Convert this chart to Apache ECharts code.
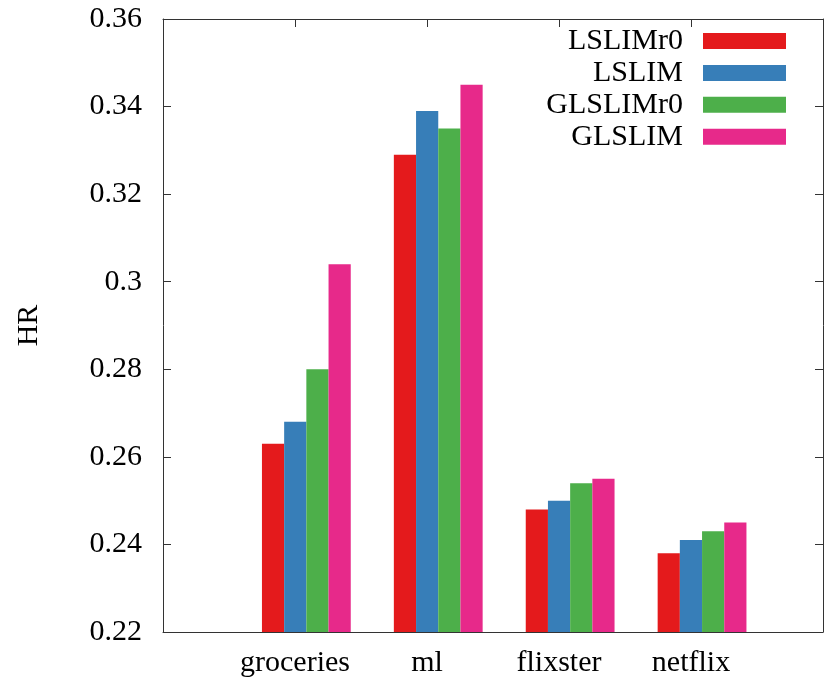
<!DOCTYPE html>
<html>
<head>
<meta charset="utf-8">
<script src="https://cdn.jsdelivr.net/npm/echarts@6/dist/echarts.min.js"></script>
<style>
  html, body { margin: 0; padding: 0; background: #fff; }
  #chart { width: 827px; height: 685px; }
</style>
</head>
<body>
<div id="chart"></div>
<script>
// ---- data ----
const categories = ['groceries', 'ml', 'flixster', 'netflix'];
const seriesNames = ['LSLIMr0', 'LSLIM', 'GLSLIMr0', 'GLSLIM'];
const LSLIMr0 = [0.263, 0.329, 0.248, 0.238];
const LSLIM = [0.268, 0.339, 0.250, 0.241];
const GLSLIMr0 = [0.280, 0.335, 0.254, 0.243];
const GLSLIM = [0.304, 0.345, 0.255, 0.245];
const yMin = 0.22, yMax = 0.36, yStep = 0.02;
const yAxisName = 'HR';

// ---- style ----
const colors = ['#e41a1c', '#377eb8', '#4daf4a', '#e7298a'];
const FONT = 'Liberation Serif';
const axisColor = '#333';

const chart = echarts.init(document.getElementById('chart'), null, { renderer: 'canvas' });

const valuesList = [LSLIMr0, LSLIM, GLSLIMr0, GLSLIM];

const frameGrid = { left: 163, right: 4, top: 19, bottom: 53 };
const barGrid = { left: 240.4, width: 527.6, top: 19, bottom: 53 };

const catLabel = (v) => {
  const i = Math.round(v);
  return (Math.abs(v - i) < 1e-6 && i >= 0 && i < categories.length) ? categories[i] : '';
};

const option = {
  backgroundColor: '#fff',
  animation: false,
  textStyle: { fontFamily: FONT },
  legend: {
    orient: 'vertical',
    right: 41,
    top: 26,
    align: 'right',
    padding: 0,
    itemWidth: 83,
    itemHeight: 16,
    itemGap: 1.9,
    icon: 'rect',
    selectedMode: false,
    data: seriesNames,
    formatter: '{a|{name}}',
    textStyle: {
      rich: {
        a: { fontFamily: FONT, fontSize: 30, color: '#000', lineHeight: 16, padding: [0, 15, 0, 0] }
      }
    }
  },
  grid: [
    Object.assign({ containLabel: false }, frameGrid),
    Object.assign({ containLabel: false }, barGrid)
  ],
  xAxis: [
    {
      type: 'value', gridIndex: 0, min: -1, max: 4, interval: 1, position: 'bottom',
      axisLine: { show: true, onZero: false, lineStyle: { color: axisColor, width: 1 } },
      axisTick: { show: true, inside: true, length: 8, lineStyle: { color: axisColor } },
      axisLabel: { show: true, formatter: catLabel, fontFamily: FONT, fontSize: 30, color: '#000', margin: 16, showMinLabel: true, showMaxLabel: true },
      splitLine: { show: false }
    },
    {
      type: 'value', gridIndex: 0, min: -1, max: 4, interval: 1, position: 'top',
      axisLine: { show: true, onZero: false, lineStyle: { color: axisColor, width: 1 } },
      axisTick: { show: true, inside: true, length: 8, lineStyle: { color: axisColor } },
      axisLabel: { show: false },
      splitLine: { show: false }
    },
    {
      type: 'category', gridIndex: 1, data: categories, show: false
    }
  ],
  yAxis: [
    {
      type: 'value', gridIndex: 0, min: yMin, max: yMax, interval: yStep, position: 'left',
      name: yAxisName, nameLocation: 'middle', nameRotate: 90, nameGap: 119,
      nameTextStyle: { fontFamily: FONT, fontSize: 30, color: '#000' },
      axisLine: { show: true, onZero: false, lineStyle: { color: axisColor, width: 1 } },
      axisTick: { show: true, inside: true, length: 8, lineStyle: { color: axisColor } },
      axisLabel: { fontFamily: FONT, fontSize: 30, color: '#000', margin: 21 },
      splitLine: { show: false }
    },
    {
      type: 'value', gridIndex: 0, min: yMin, max: yMax, interval: yStep, position: 'right',
      axisLine: { show: true, onZero: false, lineStyle: { color: axisColor, width: 1 } },
      axisTick: { show: true, inside: true, length: 8, lineStyle: { color: axisColor } },
      axisLabel: { show: false },
      splitLine: { show: false }
    },
    {
      type: 'value', gridIndex: 1, min: yMin, max: yMax, show: false
    }
  ],
  series: seriesNames.map((name, k) => ({
    name: name,
    type: 'bar',
    xAxisIndex: 2,
    yAxisIndex: 2,
    barWidth: 22.2,
    barGap: '0%',
    itemStyle: { color: colors[k] },
    data: valuesList[k]
  }))
};

chart.setOption(option);
</script>
</body>
</html>
